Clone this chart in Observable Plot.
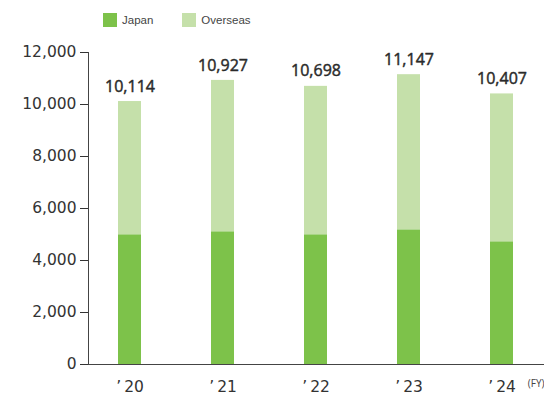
<!DOCTYPE html>
<html>
<head>
<meta charset="utf-8">
<script src="https://cdn.jsdelivr.net/npm/d3@7"></script>
<script src="https://cdn.jsdelivr.net/npm/@observablehq/plot@0.6"></script>
<style>
  html, body { margin: 0; padding: 0; background: #fff; }
  #wrap { position: relative; width: 544px; height: 396px; overflow: hidden; }
  #legend { position: absolute; left: 103px; top: 13px; display: flex; align-items: center;
            font-family: "Liberation Sans", Arial, sans-serif; font-size: 11.5px; color: #444; }
  .sw { width: 14px; height: 14px; display: inline-block; margin-right: 5px; }
  .item { display: flex; align-items: center; margin-right: 0; }
  #chart { position: absolute; left: 0; top: 0; }
</style>
</head>
<body>
<div id="wrap">
  <div id="chart"></div>
  <div id="legend"></div>
</div>
<script>
const years = ["'20", "'21", "'22", "'23", "'24"];
const japan = [4990, 5105, 4990, 5180, 4720];
const totals = [10114, 10927, 10698, 11147, 10407];
const overseas = totals.map((t, i) => t - japan[i]);
const seriesNames = ["Japan", "Overseas"];
const colors = ["#7dc24a", "#c5e0aa"];
const yTicks = [0, 2000, 4000, 6000, 8000, 10000, 12000];

const rows = [];
years.forEach((y, i) => {
  rows.push({year: y, series: "Japan", value: japan[i]});
  rows.push({year: y, series: "Overseas", value: overseas[i]});
});
const totalRows = years.map((y, i) => ({year: y, total: totals[i]}));

const legend = document.getElementById("legend");
seriesNames.forEach((s, i) => {
  const it = document.createElement("span");
  it.className = "item";
  it.style.marginRight = i === 0 ? "29px" : "0";
  it.innerHTML = `<span class="sw" style="background:${colors[i]}"></span>${s}`;
  legend.appendChild(it);
});

const tickFont = "'DejaVu Sans', sans-serif";
const chart = Plot.plot({
  width: 544,
  height: 396,
  marginLeft: 88,
  marginRight: 0,
  marginTop: 52,
  marginBottom: 32,
  style: {fontFamily: "'Open Sans', sans-serif", color: "#333", background: "#fff"},
  x: {domain: years, paddingInner: 0.75, paddingOuter: 0.31, label: null},
  y: {domain: [0, 12000], label: null},
  color: {domain: seriesNames, range: colors},
  marks: [
    Plot.barY(rows, {x: "year", y: "value", fill: "series", order: seriesNames}),
    Plot.axisY({ticks: yTicks, tickSize: 8, tickPadding: 4, tickFormat: d3.format(","), fontSize: 15.5, fontFamily: tickFont, color: "#333", label: null}),
    Plot.axisX({tickSize: 0, tickPadding: 16, fontSize: 15.5, fontFamily: tickFont, color: "#333", label: null, tickFormat: d => d.replace("'", "\u2019\u2009")}),
    Plot.frame({anchor: "left", stroke: "#444"}),
    Plot.ruleY([0], {stroke: "#444"}),
    Plot.text(totalRows, {x: "year", y: "total", text: d => d3.format(",")(d.total), dy: -15, fontSize: 16, fill: "#2a2a2a", stroke: "#2a2a2a", strokeWidth: 0.45}),
    Plot.text(["(FY)"], {frameAnchor: "bottom-right", dy: 22, fontSize: 10, fill: "#444", textAnchor: "end"})
  ]
});
document.getElementById("chart").appendChild(chart);
</script>
</body>
</html>
